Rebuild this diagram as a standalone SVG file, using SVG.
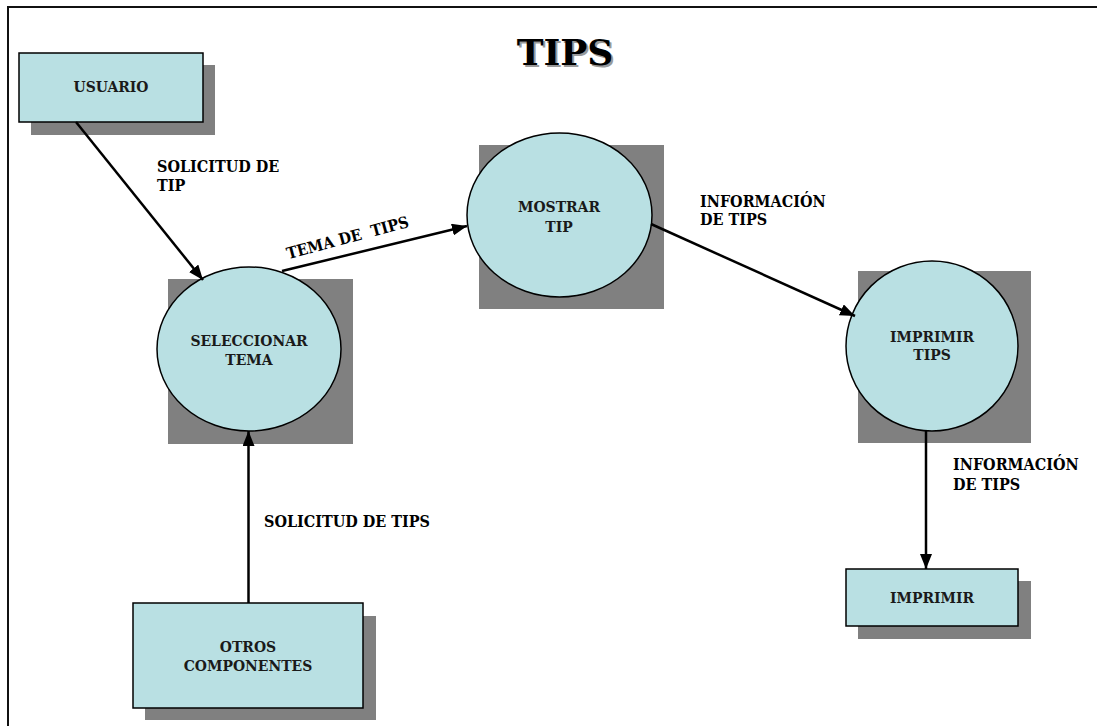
<svg xmlns="http://www.w3.org/2000/svg" width="1097" height="726" viewBox="0 0 1097 726">
<defs>
<style>
.shadow{fill:#808080;stroke:none}
.node{fill:#B9E0E3;stroke:#000;stroke-width:1.5}
.nt{font-family:"DejaVu Serif","Liberation Serif",serif;font-stretch:condensed;font-weight:bold;font-size:15.5px;fill:#1a1a1a;text-anchor:middle}
.lbl{font-family:"DejaVu Serif","Liberation Serif",serif;font-stretch:condensed;font-weight:bold;font-size:16px;fill:#000}
.conn{stroke:#000;stroke-width:2.5;fill:none;marker-end:url(#arr)}
.title{font-family:"DejaVu Serif",serif;font-weight:bold;font-size:36px;text-anchor:middle}
</style>
<marker id="arr" markerUnits="userSpaceOnUse" markerWidth="16" markerHeight="12" refX="15" refY="6" orient="auto">
<path d="M0,0 L15,6 L0,12 Z" fill="#000"/>
</marker>
</defs>
<rect x="0" y="0" width="1097" height="726" fill="#fff"/>
<rect x="8" y="7" width="1100" height="730" fill="none" stroke="#111" stroke-width="2"/>
<g id="title">
<text class="title" x="567" y="67" fill="#9a9a9a">TIPS</text>
<text class="title" x="565" y="65" fill="#000">TIPS</text>
</g>
<g id="usuario">
<rect class="shadow" x="31" y="65" width="184" height="70"/>
<rect class="node" x="19" y="53" width="184" height="69"/>
<text class="nt" x="111" y="92">USUARIO</text>
</g>
<g id="seleccionar">
<rect class="shadow" x="168" y="279" width="185" height="165"/>
<ellipse class="node" cx="249" cy="349" rx="92" ry="82"/>
<text class="nt" x="249" y="346">SELECCIONAR</text>
<text class="nt" x="249" y="365">TEMA</text>
</g>
<g id="mostrar">
<rect class="shadow" x="479" y="145" width="185" height="164"/>
<ellipse class="node" cx="559.5" cy="215" rx="92.5" ry="82"/>
<text class="nt" x="559" y="212">MOSTRAR</text>
<text class="nt" x="559" y="232">TIP</text>
</g>
<g id="imprimir-tips">
<rect class="shadow" x="858" y="271" width="173" height="172"/>
<ellipse class="node" cx="932" cy="346" rx="86" ry="85"/>
<text class="nt" x="932" y="342">IMPRIMIR</text>
<text class="nt" x="932" y="360">TIPS</text>
</g>
<g id="imprimir">
<rect class="shadow" x="858" y="581" width="173" height="58"/>
<rect class="node" x="846" y="569" width="172" height="57"/>
<text class="nt" x="932" y="603">IMPRIMIR</text>
</g>
<g id="otros">
<rect class="shadow" x="145" y="616" width="231" height="104"/>
<rect class="node" x="133" y="603" width="230" height="105"/>
<text class="nt" x="248" y="652">OTROS</text>
<text class="nt" x="248" y="671">COMPONENTES</text>
</g>
<g id="connectors">
<line class="conn" x1="76" y1="122" x2="203" y2="280"/>
<line class="conn" x1="282" y1="271" x2="467" y2="226"/>
<line class="conn" x1="651" y1="224" x2="855" y2="316"/>
<line class="conn" x1="926" y1="431" x2="926" y2="569"/>
<line class="conn" x1="248.5" y1="603" x2="248.5" y2="431"/>
</g>
<g id="labels">
<text class="lbl" x="157" y="172">SOLICITUD DE</text>
<text class="lbl" x="157" y="191">TIP</text>
<text class="lbl" x="349" y="243" text-anchor="middle" transform="rotate(-15 349 243)" xml:space="preserve">TEMA DE  TIPS</text>
<text class="lbl" x="700" y="207">INFORMACIÓN</text>
<text class="lbl" x="700" y="225">DE TIPS</text>
<text class="lbl" x="953" y="470">INFORMACIÓN</text>
<text class="lbl" x="953" y="490">DE TIPS</text>
<text class="lbl" x="264" y="527">SOLICITUD DE TIPS</text>
</g>
</svg>
